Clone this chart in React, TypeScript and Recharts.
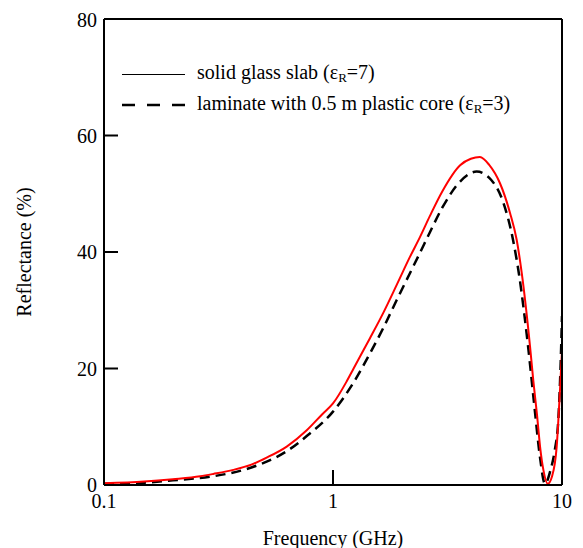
import React from "react";
import {
  LineChart,
  Line,
  XAxis,
  YAxis,
  Legend,
} from "recharts";

// frequency in GHz, reflectance in %
const solidFreq = [
  0.1, 0.15, 0.2, 0.263, 0.3, 0.367, 0.44, 0.513, 0.628, 0.768, 0.9, 1.0,
  1.148, 1.23, 1.45, 1.66, 1.9, 2.17, 2.4, 2.65, 3.0, 3.59, 4.0, 4.38, 4.8,
  5.36, 5.93, 6.34, 6.67, 7.25, 7.49, 7.78, 8.02, 8.3, 8.66, 9.05, 9.48, 9.8,
  10,
];
const solidRefl = [
  0.3, 0.6, 1.0, 1.5, 1.9, 2.6, 3.5, 4.7, 6.6, 9.4, 12.2, 14.0, 17.8, 20.0,
  25.2, 29.6, 34.4, 39.2, 42.6, 46.2, 50.4, 54.9, 56.0, 56.3, 55.0, 51.8, 46.7,
  42.1, 36.4, 23.8, 18.0, 12.0, 6.6, 2.5, 0.2, 1.5, 6.6, 16.3, 23,
];

const laminateFreq = [
  0.1, 0.15, 0.2, 0.3, 0.44, 0.513, 0.628, 0.768, 1.0, 1.23, 1.45, 1.66, 1.9,
  2.17, 2.4, 2.65, 3.0, 3.59, 4.24, 4.9, 5.53, 6.11, 6.5, 7.1, 7.6, 8.0, 8.43,
  8.9, 9.3, 9.63, 9.85, 10,
];
const laminateRefl = [
  0.2, 0.4, 0.8, 1.5, 3.0, 4.0, 5.8, 8.4, 12.6, 17.6, 22.6, 27.0, 31.8, 36.4,
  39.9, 43.4, 47.6, 52.1, 53.8, 52.4, 48.6, 42.1, 36.0, 24.0, 13.0, 5.0, 0.2,
  2.5, 6.0, 11.0, 20.0, 29.0,
];

const xTicks = [0.1, 1, 10];
const yTicks = [0, 20, 40, 60, 80];

const solidData = solidFreq.map((f, i) => ({ f, r: solidRefl[i] }));
const laminateData = laminateFreq.map((f, i) => ({ f, r: laminateRefl[i] }));

const FONT = "'Liberation Serif', 'DejaVu Serif', serif";

function LegendBox() {
  const row = {
    display: "flex",
    alignItems: "center",
    height: 31,
    whiteSpace: "nowrap" as const,
  };
  const sub = { fontSize: 13, verticalAlign: "-3px" };
  return (
    <div style={{ fontFamily: FONT, fontSize: 20, color: "#000" }}>
      <div style={row}>
        <svg width={63} height={10} style={{ marginRight: 12 }}>
          <line x1={0} y1={5.5} x2={63} y2={5.5} stroke="#000" strokeWidth={1} />
        </svg>
        <span>
          solid glass slab (ε<span style={sub}>R</span>=7)
        </span>
      </div>
      <div style={row}>
        <svg width={63} height={10} style={{ marginRight: 12 }}>
          <line
            x1={0}
            y1={5}
            x2={63}
            y2={5}
            stroke="#000"
            strokeWidth={2.5}
            strokeDasharray="13 12"
          />
        </svg>
        <span>
          laminate with 0.5 m plastic core (ε<span style={sub}>R</span>=3)
        </span>
      </div>
    </div>
  );
}

export default function App() {
  const tickFont = { fontSize: 20, fill: "#000", fontFamily: FONT };
  const frame = { stroke: "#000", strokeWidth: 2 };
  return (
    <div style={{ width: 575, height: 540, background: "white", fontFamily: FONT }}>
      <LineChart
        width={575}
        height={540}
        margin={{ top: 10, right: 20, bottom: 0, left: 0 }}
        style={{ fontFamily: FONT }}
      >
        <XAxis
          xAxisId="bottom"
          dataKey="f"
          type="number"
          scale="log"
          domain={[0.1, 10]}
          ticks={xTicks}
          allowDataOverflow
          height={63}
          axisLine={frame}
          tickLine={frame}
          tickSize={-15}
          tickMargin={24}
          tick={tickFont}
          label={{
            value: "Frequency (GHz)",
            position: "insideBottom",
            offset: 3,
            style: { fontSize: 20, fill: "#000", fontFamily: FONT },
          }}
        />
        <XAxis
          xAxisId="top"
          orientation="top"
          type="number"
          scale="log"
          domain={[0.1, 10]}
          ticks={xTicks}
          allowDataOverflow
          height={1}
          axisLine={frame}
          tickLine={frame}
          tickSize={-15}
          tick={false}
        />
        <YAxis
          yAxisId="left"
          type="number"
          domain={[0, 80]}
          ticks={yTicks}
          width={96}
          axisLine={frame}
          tickLine={frame}
          tickSize={-14}
          tickMargin={21}
          tick={tickFont}
          label={{
            value: "Reflectance (%)",
            angle: -90,
            position: "insideLeft",
            offset: 16,
            style: {
              fontSize: 20,
              fill: "#000",
              fontFamily: FONT,
              textAnchor: "middle",
            },
          }}
        />
        <YAxis
          yAxisId="right"
          orientation="right"
          type="number"
          domain={[0, 80]}
          ticks={yTicks}
          width={1}
          axisLine={frame}
          tickLine={frame}
          tickSize={-14}
          tick={false}
        />
        <Legend
          layout="vertical"
          align="center"
          verticalAlign="middle"
          content={() => <LegendBox />}
          wrapperStyle={{ left: 114, top: 50, width: "auto" }}
        />
        <Line
          xAxisId="bottom"
          yAxisId="left"
          data={laminateData}
          dataKey="r"
          type="monotone"
          stroke="#000"
          strokeWidth={2.5}
          strokeDasharray="10 6"
          dot={false}
          isAnimationActive={false}
        />
        <Line
          xAxisId="bottom"
          yAxisId="left"
          data={solidData}
          dataKey="r"
          type="monotone"
          stroke="#ff0000"
          strokeWidth={2}
          dot={false}
          isAnimationActive={false}
        />
      </LineChart>
    </div>
  );
}
